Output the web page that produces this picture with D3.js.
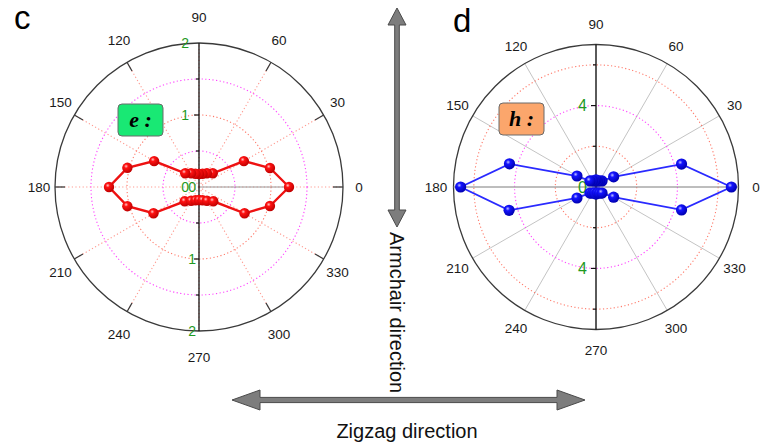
<!DOCTYPE html>
<html><head><meta charset="utf-8">
<script src="https://cdn.jsdelivr.net/npm/d3@7"></script>
<style>
body{margin:0;background:#fff}
svg{display:block}
text{font-family:Arial,"Liberation Sans",sans-serif}
</style>
</head><body>
<svg id="chart" width="761" height="444"></svg>
<script>
// Measurement angles (degrees) and polar values for the two panels
const angles = [0,15,30,45,60,75,90,105,120,135,150,165,180,195,210,225,240,255,270,285,300,315,330,345];
const eValues = [1.25,1.02,0.72,0.27,0.22,0.19,0.18,0.19,0.22,0.27,0.72,1.03,1.25,1.03,0.73,0.28,0.22,0.19,0.18,0.19,0.22,0.28,0.73,1.02];
const hValues = [6.65,4.35,1.0,0.42,0.35,0.3,0.35,0.3,0.35,0.42,1.08,4.4,6.65,4.42,1.08,0.42,0.35,0.3,0.35,0.3,0.35,0.42,1.0,4.35];
const angleTicks = [0,30,60,90,120,150,180,210,240,270,300,330];
const eRings = [0.5,1,1.5];
const eRingColors = ["#ff44ff","#ff7a6a","#ff44ff"];
const eAxisLabels = [0,1,2];
const eMinorTicks = [0.5,1.5];
const hRings = [2,4,6];
const hRingColors = ["#ff7a6a","#ff44ff","#ff7a6a"];
const hAxisLabels = [4];
const hMinorTicks = [2,6];

const svg = d3.select("#chart");
const defs = svg.append("defs");

function ballGradient(id, light, mid, dark){
  const g = defs.append("radialGradient").attr("id", id)
    .attr("cx","38%").attr("cy","35%").attr("r","65%");
  g.append("stop").attr("offset","0%").attr("stop-color",light);
  g.append("stop").attr("offset","30%").attr("stop-color",mid);
  g.append("stop").attr("offset","100%").attr("stop-color",dark);
}
ballGradient("ballRed","#ffc8c8","#ff1212","#c00000");
ballGradient("ballBlue","#c0c0ff","#1414ff","#0000b0");

const rad = d => d * Math.PI / 180;

function polarPanel(o){
  const g = svg.append("g").attr("transform", `translate(${o.cx},${o.cy})`);
  const r = d3.scaleLinear().domain([0, o.max]).range([0, o.R]);
  const px = (a, v) => r(v) * Math.cos(rad(a));
  const py = (a, v) => -r(v) * Math.sin(rad(a));

  // spokes
  g.selectAll("line.spoke").data(angleTicks).join("line")
    .attr("x1",0).attr("y1",0)
    .attr("x2", a => px(a, o.max)).attr("y2", a => py(a, o.max))
    .attr("stroke", o.spokeColor).attr("stroke-width", o.spokeWidth)
    .attr("stroke-dasharray", o.spokeDash);

  // grid rings
  g.selectAll("circle.ring").data(o.rings).join("circle")
    .attr("r", d => r(d)).attr("fill","none")
    .attr("stroke", (d,i) => o.ringColors[i]).attr("stroke-width",1.1)
    .attr("stroke-dasharray","1.2,2.4");

  // outer frame
  g.append("circle").attr("r", o.R).attr("fill","none")
    .attr("stroke","#3a3a3a").attr("stroke-width",1.3);

  if (o.frameTicks){
    g.selectAll("line.ft").data(angleTicks.filter(a => a % 180 !== 90)).join("line")
      .attr("x1", a => px(a, o.max)).attr("y1", a => py(a, o.max))
      .attr("x2", a => (o.R - 10) * Math.cos(rad(a)))
      .attr("y2", a => -(o.R - 10) * Math.sin(rad(a)))
      .attr("stroke","#3a3a3a").attr("stroke-width",1.3);
  }

  // horizontal base line
  g.append("line").attr("x1", o.baseFrom).attr("y1",0).attr("x2", o.baseTo).attr("y2",0)
    .attr("stroke","#9a9a9a").attr("stroke-width",1);

  // vertical radial axis
  g.append("line").attr("x1",0).attr("y1",-o.R).attr("x2",0).attr("y2",o.R)
    .attr("stroke","#111").attr("stroke-width",1.3);
  const major = o.axisLabels.filter(v => v > 0 && v < o.max);
  [-1,1].forEach(s => {
    g.selectAll(null).data(major).join("line")
      .attr("x1",0).attr("x2",-5).attr("y1", v => s*r(v)).attr("y2", v => s*r(v))
      .attr("stroke","#111").attr("stroke-width",1.2);
    g.selectAll(null).data(o.minorTicks).join("line")
      .attr("x1",0).attr("x2",-3).attr("y1", v => s*r(v)).attr("y2", v => s*r(v))
      .attr("stroke","#111").attr("stroke-width",1.2);
  });
  g.selectAll(null).data(o.topLabels).join("text")
    .attr("x", o.topLabelX).attr("y", v => -r(v)).attr("dy","0.36em")
    .attr("text-anchor","end").attr("font-size",o.axisFont).attr("fill","#1f9a1f")
    .text(d => d);
  g.selectAll(null).data(o.bottomLabels).join("text")
    .attr("x", o.bottomLabelX).attr("y", v => r(v)).attr("dy","0.36em")
    .attr("text-anchor","end").attr("font-size",o.axisFont).attr("fill","#1f9a1f")
    .text(d => d);

  // angle labels
  g.selectAll("text.ang").data(angleTicks).join("text")
    .attr("x", a => o.labelRx * Math.cos(rad(a)))
    .attr("y", a => -o.labelRy * Math.sin(rad(a)))
    .attr("dy","0.36em").attr("text-anchor","middle")
    .attr("font-size",13.5).attr("fill","#1a1a1a")
    .text(a => a);

  // data line and markers
  const pts = angles.map((a,i) => ({a, v: o.values[i]}));
  const line = d3.lineRadial()
    .angle(d => Math.PI/2 - rad(d.a))
    .radius(d => r(d.v))
    .curve(d3.curveLinearClosed);
  g.append("path").datum(pts).attr("d", line).attr("fill","none")
    .attr("stroke", o.lineColor).attr("stroke-width", o.lineWidth);
  g.selectAll("circle.pt").data(pts).join("circle")
    .attr("cx", d => px(d.a, d.v)).attr("cy", d => py(d.a, d.v))
    .attr("r", o.ballR).attr("fill", `url(#${o.ball})`);

  // sample tag
  const tag = svg.append("g").attr("transform", `translate(${o.tag.x},${o.tag.y})`);
  tag.append("rect").attr("width",45).attr("height",32).attr("rx",4)
    .attr("fill", o.tag.fill).attr("stroke","#6a6a6a").attr("stroke-width",1);
  tag.append("text").attr("x",22.5).attr("y",23)
    .attr("text-anchor","middle").attr("font-size",22)
    .attr("font-weight","bold").attr("font-style","italic")
    .style("font-family","'Liberation Serif','Times New Roman',serif")
    .text(o.tag.text);
}

polarPanel({
  cx:199, cy:187, R:144, max:2, values:eValues,
  rings:eRings, ringColors:eRingColors,
  spokeColor:"#ff9a90", spokeWidth:1.1, spokeDash:"1.2,2.4",
  frameTicks:true, baseFrom:0, baseTo:90,
  axisLabels:eAxisLabels, minorTicks:eMinorTicks, axisFont:14,
  topLabels:eAxisLabels, bottomLabels:eAxisLabels, topLabelX:-10, bottomLabelX:-3,
  labelRx:160, labelRy:170, lineColor:"#ee1111", lineWidth:2.4, ball:"ballRed", ballR:5.2,
  tag:{x:118, y:104, fill:"#19e874", text:"e :"}
});

polarPanel({
  cx:596, cy:187, R:142.5, max:7, values:hValues,
  rings:hRings, ringColors:hRingColors,
  spokeColor:"#c4c4c4", spokeWidth:1, spokeDash:null,
  frameTicks:false, baseFrom:-142.5, baseTo:142.5,
  axisLabels:hAxisLabels, minorTicks:hMinorTicks, axisFont:16,
  topLabels:[4,0], bottomLabels:[4], topLabelX:-9, bottomLabelX:-9,
  labelRx:160, labelRy:163, lineColor:"#2a2aff", lineWidth:1.8, ball:"ballBlue", ballR:5.6,
  tag:{x:499, y:103, fill:"#fba66c", text:"h :"}
});

// panel letters
svg.append("text").attr("x",14).attr("y",29).attr("font-size",33).attr("fill","#000").text("c");
svg.append("text").attr("x",453).attr("y",32).attr("font-size",33).attr("fill","#000").text("d");

// double-headed direction arrows
function arrow(x1,y1,x2,y2,headLen,headHalf,shaftHalf){
  const len = Math.hypot(x2-x1,y2-y1);
  const g = svg.append("g")
    .attr("transform", `translate(${x1},${y1}) rotate(${Math.atan2(y2-y1,x2-x1)*180/Math.PI})`);
  const p = d3.path();
  p.moveTo(0,0);
  p.lineTo(headLen,-headHalf); p.lineTo(headLen,-shaftHalf);
  p.lineTo(len-headLen,-shaftHalf); p.lineTo(len-headLen,-headHalf);
  p.lineTo(len,0);
  p.lineTo(len-headLen,headHalf); p.lineTo(len-headLen,shaftHalf);
  p.lineTo(headLen,shaftHalf); p.lineTo(headLen,headHalf);
  p.closePath();
  g.append("path").attr("d", p.toString())
    .attr("fill","#7d7d7d").attr("stroke","#4a4a4a").attr("stroke-width",1);
}
arrow(397,8,397,227,17,9,2.3);
arrow(232,400,585,400,28,10,2.6);

svg.append("text").attr("transform","translate(397,232) rotate(90)")
  .attr("dy","0.35em").attr("font-size",20).attr("fill","#111").text("Armchair direction");
svg.append("text").attr("x",407).attr("y",431).attr("dy","0.35em")
  .attr("text-anchor","middle").attr("font-size",20).attr("fill","#111").text("Zigzag direction");
</script>
</body></html>
